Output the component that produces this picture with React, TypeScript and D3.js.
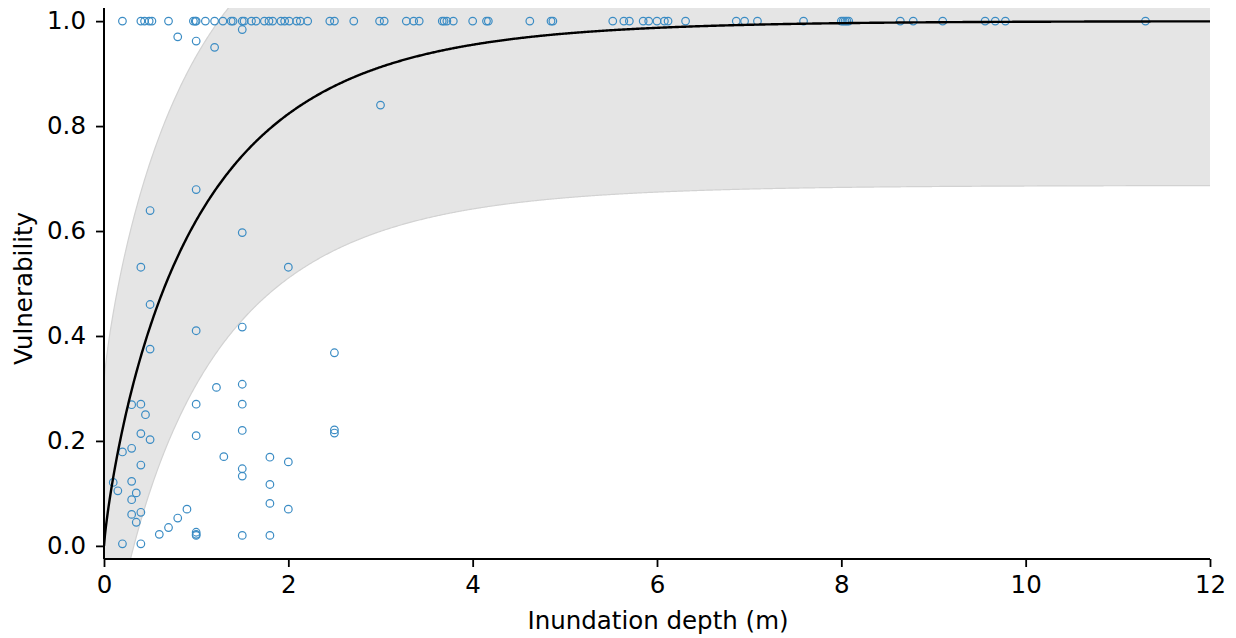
import React, { useEffect, useRef } from "react";
import * as d3 from "d3";

// Observations at vulnerability 1.0 (depth in m)
const fullDepths = [
  0.2, 0.4, 0.44, 0.49, 0.52, 0.7, 0.97, 0.99, 1.0, 1.1, 1.2, 1.29, 1.38, 1.4, 1.5, 1.52,
  1.6, 1.65, 1.74, 1.79, 1.83, 1.92, 1.96, 2.01, 2.09, 2.13, 2.21, 2.45, 2.5, 2.71, 2.99,
  3.04, 3.28, 3.36, 3.42, 3.67, 3.69, 3.72, 3.79, 4.0, 4.15, 4.17, 4.62, 4.85, 4.87, 5.52,
  5.64, 5.7, 5.85, 5.91, 6.0, 6.08, 6.12, 6.31, 6.86, 6.95, 7.09, 7.59, 8.0, 8.02, 8.04,
  8.06, 8.08, 8.64, 8.78, 9.1, 9.56, 9.67, 9.78, 11.3,
];

// Partial-damage observations
const partialDepths = [
  0.8, 1.0, 1.2, 1.5, 3.0, 1.0, 0.5, 1.5, 0.4, 2.0, 0.5, 1.0, 1.5, 0.5, 2.5, 1.22, 1.5,
  0.3, 0.4, 0.45, 1.0, 1.5, 0.4, 0.5, 1.0, 1.5, 2.5, 2.5, 0.3, 0.2, 1.3, 1.8, 2.0, 0.4,
  1.5, 1.5, 0.1, 0.3, 1.8, 0.15, 0.35, 0.3, 1.8, 2.0, 0.9, 0.3, 0.4, 0.8, 0.35, 0.7, 0.6,
  1.0, 1.0, 1.0, 1.5, 1.8, 0.2, 0.4,
];
const partialValues = [
  0.97, 0.962, 0.95, 0.984, 0.84, 0.679, 0.639, 0.597, 0.531, 0.531, 0.46, 0.41, 0.417,
  0.375, 0.368, 0.302, 0.308, 0.269, 0.27, 0.25, 0.27, 0.27, 0.214, 0.2025, 0.21, 0.22,
  0.221, 0.215, 0.186, 0.179, 0.17, 0.169, 0.16, 0.154, 0.147, 0.133, 0.121, 0.123, 0.117,
  0.105, 0.101, 0.088, 0.081, 0.07, 0.07, 0.06, 0.064, 0.053, 0.045, 0.035, 0.022, 0.026,
  0.022, 0.02, 0.02, 0.02, 0.004, 0.004,
];

// Fitted curve (Weibull-type) and band half-width
const curveScale = 1.04;
const curveShape = 0.84;
const bandHalfWidth = 0.313;

const xTicks = [0, 2, 4, 6, 8, 10, 12];
const yTicks = [0, 0.2, 0.4, 0.6, 0.8, 1.0];

const W = 1236;
const H = 638;
const left = 104;
const right = 1210;
const top = 8;
const bottom = 559;

export default function App() {
  const ref = useRef<SVGSVGElement>(null);

  useEffect(() => {
    document.body.style.margin = "0";
    const svg = d3.select(ref.current);
    svg.selectAll("*").remove();

    const x = d3.scaleLinear().domain([0, 12]).range([left, right]);
    const y = d3.scaleLinear().domain([-0.025, 1.025]).range([bottom, top]);

    const mean = (d: number) => 1 - Math.exp(-Math.pow(d / curveScale, curveShape));
    const xs = d3.range(0, 12.0001, 0.01);

    svg
      .append("defs")
      .append("clipPath")
      .attr("id", "plotclip")
      .append("rect")
      .attr("x", left)
      .attr("y", top)
      .attr("width", right - left)
      .attr("height", bottom - top);

    const g = svg.append("g").attr("clip-path", "url(#plotclip)");

    const area = d3
      .area<number>()
      .x((d) => x(d))
      .y0((d) => y(mean(d) - bandHalfWidth))
      .y1((d) => y(mean(d) + bandHalfWidth));
    g.append("path")
      .datum(xs)
      .attr("d", area)
      .attr("fill", "#e5e5e5")
      .attr("stroke", "none");

    const upLine = d3.line<number>().x((d) => x(d)).y((d) => y(mean(d) + bandHalfWidth));
    const loLine = d3.line<number>().x((d) => x(d)).y((d) => y(mean(d) - bandHalfWidth));
    g.append("path").datum(xs).attr("d", upLine).attr("fill", "none").attr("stroke", "#d2d2d2").attr("stroke-width", 1.2);
    g.append("path").datum(xs).attr("d", loLine).attr("fill", "none").attr("stroke", "#d2d2d2").attr("stroke-width", 1.2);

    const pts = [
      ...fullDepths.map((d) => [d, 1.0]),
      ...partialDepths.map((d, i) => [d, partialValues[i]]),
    ];
    g.selectAll("circle.pt")
      .data(pts)
      .enter()
      .append("circle")
      .attr("class", "pt")
      .attr("cx", (d) => x(d[0]))
      .attr("cy", (d) => y(d[1]))
      .attr("r", 3.8)
      .attr("fill", "none")
      .attr("stroke", "#3b8cc4")
      .attr("stroke-width", 1.2);

    const meanLine = d3.line<number>().x((d) => x(d)).y((d) => y(mean(d)));
    g.append("path")
      .datum(xs)
      .attr("d", meanLine)
      .attr("fill", "none")
      .attr("stroke", "#000")
      .attr("stroke-width", 2.4);

    const font = "DejaVu Sans, sans-serif";
    const fs = "24.5px";

    const xAxis = svg
      .append("g")
      .attr("transform", `translate(0,${bottom})`)
      .call(d3.axisBottom(x).tickValues(xTicks).tickFormat(d3.format("d")).tickSize(8).tickPadding(9));
    const yAxis = svg
      .append("g")
      .attr("transform", `translate(${left},0)`)
      .call(d3.axisLeft(y).tickValues(yTicks).tickFormat(d3.format(".1f")).tickSize(8).tickPadding(10));

    for (const ax of [xAxis, yAxis]) {
      ax.select(".domain").attr("stroke", "#000").attr("stroke-width", 2);
      ax.selectAll(".tick line").attr("stroke", "#000").attr("stroke-width", 1.8);
      ax.selectAll(".tick text").attr("fill", "#000").style("font-family", font).style("font-size", fs);
    }
    xAxis.select(".domain").attr("d", `M${left},0H${right}`);
    yAxis.select(".domain").attr("d", `M0,${bottom}V${top}`);

    svg
      .append("text")
      .attr("x", (left + right) / 2 + 1)
      .attr("y", 629)
      .attr("text-anchor", "middle")
      .style("font-family", font)
      .style("font-size", fs)
      .text("Inundation depth (m)");

    svg
      .append("text")
      .attr("transform", `translate(32,${(top + bottom) / 2 + 5}) rotate(-90)`)
      .attr("text-anchor", "middle")
      .style("font-family", font)
      .style("font-size", fs)
      .text("Vulnerability");
  }, []);

  return <svg ref={ref} width={W} height={H} style={{ display: "block", background: "#fff" }} />;
}
